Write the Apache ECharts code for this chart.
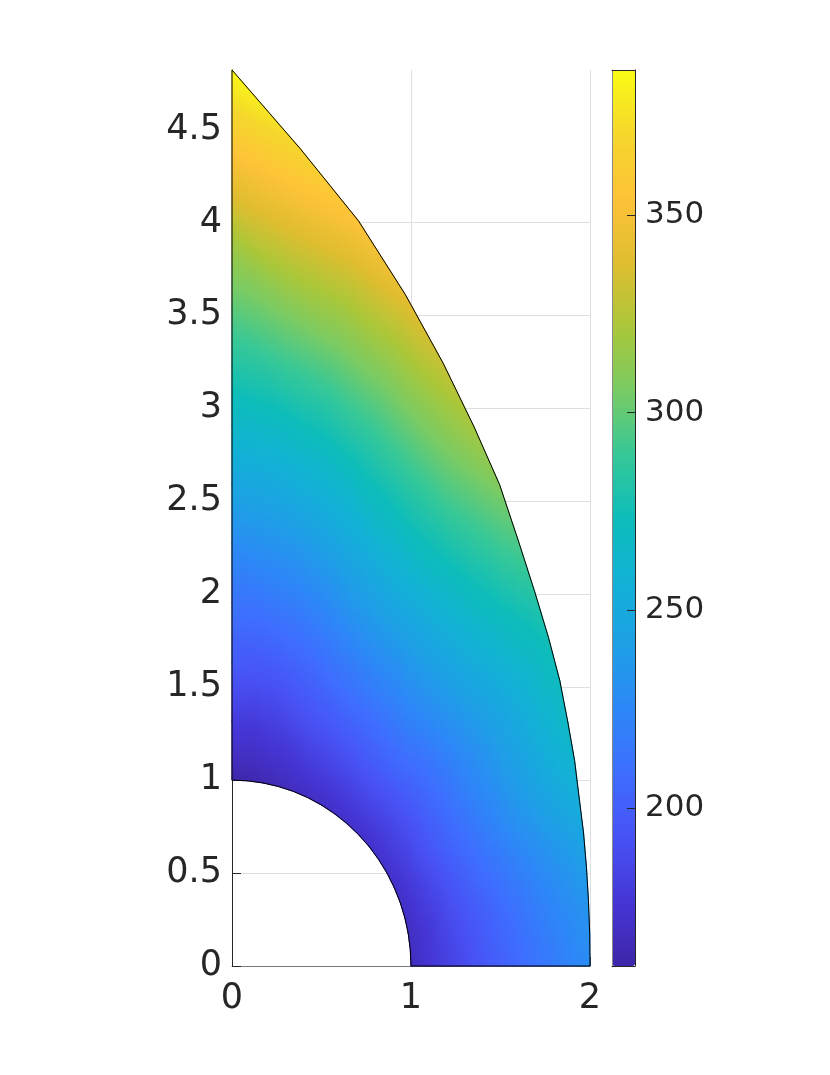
<!DOCTYPE html>
<html>
<head>
<meta charset="utf-8">
<script src="https://cdn.jsdelivr.net/npm/echarts@6/dist/echarts.min.js"></script>
<style>
html,body{margin:0;padding:0;background:#ffffff;}
#chart{width:830px;height:1075px;}
</style>
</head>
<body>
<div id="chart"></div>
<script>
// ---- mesh geometry ----
const angles = [0,5,10,15,20,25,30,35,40,45,50,55,60,65,70,75,80,85,90];          // degrees
const outerR = [2.00,2.006,2.022,2.05,2.09,2.14,2.21,2.29,2.39,2.50,2.63,2.79,2.99,3.20,3.45,3.74,4.07,4.41,4.82];
const innerR = 1;
const radialSteps = 12;

// ---- values at the mesh nodes (one row per ray, inner circle -> outer edge) ----
const nodeValues = [
  [168,174,180,185,191,196,201,206,211,215,220,224,228],
  [169,175,181,187,192,198,203,208,213,218,222,227,231],
  [169,175,182,188,194,199,205,210,216,221,226,230,235],
  [170,177,183,190,196,202,208,214,219,225,230,235,240],
  [171,178,185,192,199,206,212,218,224,230,236,241,247],
  [171,179,187,194,202,209,216,223,230,236,243,249,255],
  [172,180,189,197,205,212,220,227,235,242,249,255,262],
  [172,181,189,198,206,215,223,230,238,245,253,260,267],
  [172,181,190,199,208,216,225,233,241,248,256,264,271],
  [172,182,191,201,210,219,228,237,245,253,261,268,276],
  [172,183,193,204,214,223,233,242,251,260,268,276,284],
  [171,182,194,205,216,227,237,247,257,267,276,286,295],
  [170,182,194,206,218,229,241,252,264,275,286,297,308],
  [169,182,194,207,219,232,245,257,270,282,295,307,320],
  [168,181,194,207,220,234,247,261,274,288,302,316,330],
  [166,179,193,206,220,234,249,263,278,293,308,324,341],
  [164,178,192,207,221,236,252,267,283,300,317,335,354],
  [162,177,193,208,224,240,256,273,291,309,329,349,369],
  [160,180,198,213,228,247,265,282,299,317,341,363,386]
];

// ---- axes / colour bar ----
const xTicks = [0,1,2];
const yTicks = [0,0.5,1,1.5,2,2.5,3,3.5,4,4.5];
const colorbarTicks = [200,250,300,350];
const colorMin = 160;
const colorMax = 386.7;
const parula = ['#3E26A8','#4535D5','#4852F4','#3E6DFF','#2D87F7','#1E9FE6','#12B1D6','#0DBDBA',
                '#37C897','#7ACB63','#ABC739','#E0BD2F','#FEC338','#F5D72C','#F9FB15'];

function node(j, k) {
  const th = angles[j] * Math.PI / 180;
  const r = innerR + (k / radialSteps) * (outerR[j] - innerR);
  return [r * Math.cos(th), r * Math.sin(th)];
}

function valueColor(v) {
  const p = Math.max(0, Math.min(1, (v - colorMin) / (colorMax - colorMin)));
  return echarts.color.lerp(p, parula);
}
const knotValues = parula.map(function (c, i) { return colorMin + i * (colorMax - colorMin) / (parula.length - 1); });

// shaded triangle: linear gradient along the steepest direction of the value over the triangle
function triFill(p, v) {
  const dx1 = p[1][0] - p[0][0], dy1 = p[1][1] - p[0][1], dv1 = v[1] - v[0];
  const dx2 = p[2][0] - p[0][0], dy2 = p[2][1] - p[0][1], dv2 = v[2] - v[0];
  const det = dx1 * dy2 - dx2 * dy1;
  const vmin = Math.min(v[0], v[1], v[2]), vmax = Math.max(v[0], v[1], v[2]);
  if (Math.abs(det) < 1e-9 || vmax - vmin < 1e-6) return valueColor((vmin + vmax) / 2);
  const a = (dv1 * dy2 - dv2 * dy1) / det;
  const b = (dx1 * dv2 - dx2 * dv1) / det;
  const g2 = a * a + b * b;
  const s = p[v.indexOf(vmin)];
  const stops = [{offset: 0, color: valueColor(vmin)}];
  knotValues.forEach(function (kv) {
    if (kv > vmin && kv < vmax) stops.push({offset: (kv - vmin) / (vmax - vmin), color: valueColor(kv)});
  });
  stops.push({offset: 1, color: valueColor(vmax)});
  return {
    type: 'linear', global: true,
    x: s[0], y: s[1],
    x2: s[0] + a * (vmax - vmin) / g2, y2: s[1] + b * (vmax - vmin) / g2,
    colorStops: stops
  };
}

const quadData = [];
for (let j = 0; j < angles.length - 1; j++) {
  for (let k = 0; k < radialSteps; k++) quadData.push([j, k, nodeValues[j][k]]);
}

const outline = [];
for (let j = 0; j < angles.length; j++) outline.push(node(j, 0));
for (let j = angles.length - 1; j >= 0; j--) outline.push(node(j, radialSteps));
outline.push(node(0, 0));

const font = 'DejaVu Sans';
const textColor = '#262626';
const gridColor = '#dfdfdf';

const chart = echarts.init(document.getElementById('chart'), null, {renderer: 'canvas'});
const frameAxis = {
  gridIndex: 1, type: 'value', z: 10,
  axisLine: {show: true, onZero: false, lineStyle: {color: textColor, width: 1}},
  axisTick: {show: false}, axisLabel: {show: false}, splitLine: {show: false}
};
chart.setOption({
  animation: false,
  backgroundColor: '#ffffff',
  grid: [
    {left: 232, top: 70, width: 358, height: 896},
    {left: 612, top: 70, width: 23, height: 896}
  ],
  xAxis: [
    {
      gridIndex: 0, type: 'value', min: 0, max: 2, interval: 1,
      axisLine: {show: true, onZero: false, lineStyle: {color: '#7a7a7a', width: 1}},
      axisTick: {show: true, inside: true, length: 9, customValues: xTicks, lineStyle: {color: textColor}},
      axisLabel: {customValues: xTicks, fontSize: 35, fontFamily: font, color: textColor, margin: 15},
      splitLine: {show: true, lineStyle: {color: gridColor, width: 1}}
    },
    Object.assign({}, frameAxis, {min: 0, max: 1, position: 'bottom'}),
    Object.assign({}, frameAxis, {min: 0, max: 1, position: 'top'})
  ],
  yAxis: [
    {
      gridIndex: 0, type: 'value', min: 0, max: 4.82, interval: 0.5,
      axisLine: {show: true, onZero: false, lineStyle: {color: textColor, width: 1}},
      axisTick: {show: true, inside: true, length: 9, customValues: yTicks, lineStyle: {color: textColor}},
      axisLabel: {customValues: yTicks, fontSize: 35, fontFamily: font, color: textColor, margin: 10},
      splitLine: {show: true, showMaxLine: false, lineStyle: {color: gridColor, width: 1}}
    },
    Object.assign({}, frameAxis, {min: colorMin, max: colorMax, position: 'left',
      axisLine: {show: true, onZero: false, lineStyle: {color: '#8a8a8a', width: 1}}}),
    Object.assign({}, frameAxis, {
      min: colorMin, max: colorMax, position: 'right',
      axisTick: {show: true, inside: true, length: 8, customValues: colorbarTicks, lineStyle: {color: textColor}},
      axisLabel: {show: true, customValues: colorbarTicks, fontSize: 31, fontFamily: font, color: textColor, margin: 10}
    })
  ],
  visualMap: {
    type: 'continuous', min: colorMin, max: colorMax, dimension: 2, seriesIndex: 0,
    inRange: {color: parula}, left: 612, top: 70, itemWidth: 23, itemHeight: 896,
    padding: 0, calculable: false, orient: 'vertical', z: 2, hoverLink: false
  },
  series: [
    {
      type: 'custom', xAxisIndex: 0, yAxisIndex: 0, data: quadData, z: 2, silent: true,
      dimensions: ['j', 'k', 'v'],
      renderItem: function (params, api) {
        const j = api.value(0), k = api.value(1);
        const ids = [[j, k], [j + 1, k], [j + 1, k + 1], [j, k + 1]];
        const P = ids.map(function (n) { return api.coord(node(n[0], n[1])); });
        const V = ids.map(function (n) { return nodeValues[n[0]][n[1]]; });
        const f1 = triFill([P[0], P[1], P[2]], [V[0], V[1], V[2]]);
        const f2 = triFill([P[0], P[2], P[3]], [V[0], V[2], V[3]]);
        return {
          type: 'group',
          children: [
            {type: 'polygon', shape: {points: [P[0], P[1], P[2]]}, style: {fill: f1, stroke: f1, lineWidth: 1.1, lineJoin: 'round'}},
            {type: 'polygon', shape: {points: [P[0], P[2], P[3]]}, style: {fill: f2, stroke: f2, lineWidth: 1.1, lineJoin: 'round'}}
          ]
        };
      }
    },
    {
      type: 'line', xAxisIndex: 0, yAxisIndex: 0, data: outline, z: 3,
      showSymbol: false, symbol: 'none', silent: true, clip: false,
      lineStyle: {color: '#000000', width: 1}
    }
  ]
});
</script>
</body>
</html>
